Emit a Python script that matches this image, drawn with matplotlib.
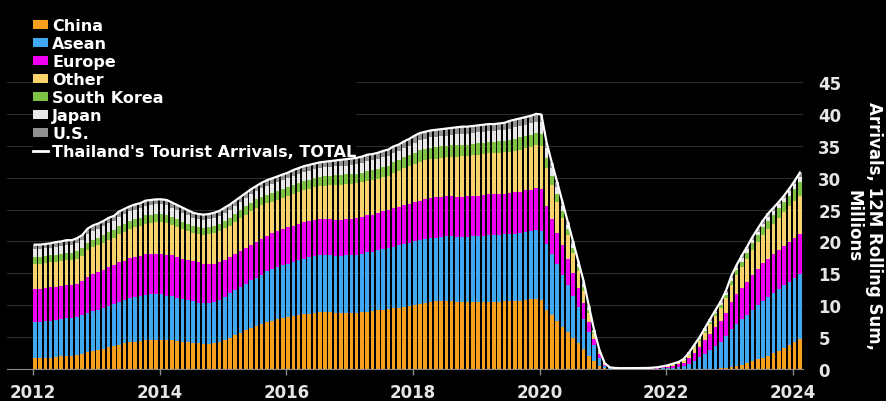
import numpy as np
import matplotlib
matplotlib.use("Agg")
import matplotlib.pyplot as plt
from matplotlib.patches import Patch
from matplotlib.lines import Line2D

# 12M rolling sums, millions, monthly Jan 2012 - Feb 2024
china = [
    1.7, 1.7, 1.8, 1.8, 1.9, 2.0, 2.1, 2.1, 2.2, 2.4, 2.6, 2.8,
    3.0, 3.2, 3.4, 3.6, 3.8, 4.0, 4.2, 4.3, 4.4, 4.5, 4.6, 4.6,
    4.6, 4.5, 4.5, 4.4, 4.3, 4.2, 4.1, 4.0, 3.9, 3.9, 4.0, 4.2,
    4.5, 4.9, 5.3, 5.7, 6.1, 6.5, 6.8, 7.1, 7.4, 7.6, 7.8, 8.0,
    8.1, 8.3, 8.5, 8.6, 8.7, 8.8, 8.9, 8.9, 8.9, 8.8, 8.8, 8.8,
    8.8, 8.8, 8.9, 9.0, 9.1, 9.2, 9.3, 9.4, 9.5, 9.6, 9.7, 9.8,
    10.0, 10.2, 10.4, 10.5, 10.6, 10.7, 10.7, 10.6, 10.5, 10.5, 10.5, 10.5,
    10.5, 10.5, 10.5, 10.5, 10.5, 10.6, 10.6, 10.6, 10.7, 10.8, 10.9, 11.0,
    10.8, 9.3, 8.4, 7.5, 6.6, 5.8, 4.9, 4.0, 3.1, 2.1, 1.2, 0.5,
    0.1, 0.03, 0.01, 0.01, 0.01, 0.01, 0.01, 0.01, 0.01, 0.01, 0.01, 0.01,
    0.01, 0.01, 0.01, 0.01, 0.01, 0.01, 0.01, 0.02, 0.03, 0.05, 0.1, 0.2,
    0.35, 0.5, 0.7, 0.9, 1.2, 1.5, 1.8, 2.1, 2.5, 2.9, 3.3, 3.7,
    4.2, 4.7]
asean = [
    5.7, 5.7, 5.7, 5.8, 5.8, 5.8, 5.9, 5.9, 5.9, 6.0, 6.2, 6.3,
    6.3, 6.4, 6.5, 6.6, 6.7, 6.8, 6.9, 7.0, 7.0, 7.1, 7.1, 7.1,
    7.1, 7.0, 6.9, 6.8, 6.7, 6.6, 6.5, 6.4, 6.4, 6.4, 6.5, 6.6,
    6.8, 7.0, 7.1, 7.2, 7.3, 7.4, 7.5, 7.7, 7.9, 8.1, 8.2, 8.3,
    8.4, 8.5, 8.6, 8.7, 8.8, 8.9, 8.9, 8.9, 8.9, 8.9, 8.9, 9.0,
    9.0, 9.1, 9.2, 9.3, 9.3, 9.4, 9.5, 9.6, 9.7, 9.8, 9.9, 10.0,
    10.0, 10.0, 10.0, 10.0, 10.0, 10.0, 10.1, 10.2, 10.2, 10.2, 10.2, 10.3,
    10.3, 10.4, 10.5, 10.5, 10.5, 10.5, 10.5, 10.6, 10.6, 10.7, 10.7, 10.8,
    10.9, 10.3, 9.6, 8.9, 8.2, 7.4, 6.6, 5.7, 4.8, 3.7, 2.5, 1.3,
    0.4, 0.1, 0.03, 0.03, 0.03, 0.03, 0.03, 0.03, 0.03, 0.04, 0.05, 0.08,
    0.12, 0.18, 0.25, 0.4, 0.75, 1.2, 1.8, 2.4, 3.0, 3.6, 4.2, 4.9,
    6.0, 6.6, 7.1, 7.6, 8.1, 8.5, 8.9, 9.2, 9.4, 9.6, 9.8, 9.9,
    10.0, 10.2]
europe = [
    5.2, 5.2, 5.2, 5.2, 5.2, 5.2, 5.2, 5.2, 5.3, 5.4, 5.7, 5.8,
    5.9, 6.0, 6.1, 6.1, 6.2, 6.2, 6.3, 6.3, 6.3, 6.4, 6.4, 6.4,
    6.4, 6.4, 6.4, 6.3, 6.3, 6.3, 6.3, 6.3, 6.2, 6.1, 6.0, 5.9,
    5.8, 5.7, 5.6, 5.6, 5.6, 5.6, 5.6, 5.6, 5.6, 5.6, 5.6, 5.6,
    5.7, 5.7, 5.7, 5.7, 5.7, 5.7, 5.7, 5.7, 5.7, 5.7, 5.7, 5.7,
    5.7, 5.7, 5.7, 5.8, 5.8, 5.8, 5.9, 5.9, 6.0, 6.0, 6.1, 6.1,
    6.2, 6.2, 6.3, 6.3, 6.3, 6.3, 6.3, 6.3, 6.3, 6.3, 6.4, 6.4,
    6.4, 6.4, 6.4, 6.4, 6.4, 6.4, 6.5, 6.5, 6.5, 6.5, 6.5, 6.6,
    6.5, 6.0, 5.5, 5.0, 4.6, 4.1, 3.6, 3.0, 2.4, 1.6, 1.0, 0.5,
    0.15, 0.04, 0.03, 0.02, 0.02, 0.02, 0.02, 0.03, 0.04, 0.06, 0.1, 0.17,
    0.25, 0.35, 0.45, 0.6, 0.9, 1.3, 1.7, 2.1, 2.5, 2.9, 3.3, 3.7,
    4.2, 4.6, 4.9, 5.2, 5.5, 5.7, 5.9, 6.0, 6.1, 6.2, 6.2, 6.3,
    6.3, 6.3]
other = [
    3.9, 3.9, 3.9, 3.9, 3.9, 3.9, 3.9, 3.9, 3.9, 3.9, 4.1, 4.2,
    4.2, 4.2, 4.3, 4.3, 4.4, 4.5, 4.5, 4.6, 4.7, 4.8, 4.8, 4.9,
    4.9, 5.0, 4.8, 4.8, 4.6, 4.5, 4.4, 4.4, 4.5, 4.7, 4.8, 4.9,
    5.0, 4.9, 5.1, 5.2, 5.2, 5.3, 5.4, 5.3, 5.1, 4.9, 4.9, 4.9,
    4.9, 5.0, 5.0, 5.1, 5.1, 5.1, 5.2, 5.2, 5.3, 5.5, 5.5, 5.5,
    5.5, 5.5, 5.5, 5.4, 5.4, 5.4, 5.4, 5.4, 5.5, 5.6, 5.8, 5.9,
    6.0, 6.1, 6.0, 6.1, 6.1, 6.1, 6.1, 6.2, 6.3, 6.4, 6.3, 6.3,
    6.4, 6.4, 6.4, 6.4, 6.5, 6.5, 6.5, 6.5, 6.6, 6.6, 6.7, 6.7,
    6.8, 5.9, 5.3, 4.8, 4.2, 3.7, 3.1, 2.6, 2.0, 1.4, 0.8, 0.4,
    0.15, 0.05, 0.04, 0.03, 0.03, 0.03, 0.03, 0.03, 0.03, 0.04, 0.05, 0.07,
    0.1, 0.14, 0.2, 0.35, 0.6, 0.8, 0.9, 1.2, 1.5, 1.8, 2.0, 2.3,
    2.6, 3.0, 3.3, 3.6, 3.9, 4.2, 4.4, 4.6, 4.8, 5.0, 5.3, 5.6,
    5.9, 6.0]
korea = [
    1.1, 1.1, 1.1, 1.1, 1.1, 1.1, 1.1, 1.1, 1.2, 1.2, 1.2, 1.2,
    1.2, 1.2, 1.2, 1.2, 1.3, 1.3, 1.3, 1.3, 1.3, 1.3, 1.3, 1.3,
    1.3, 1.3, 1.2, 1.2, 1.2, 1.1, 1.1, 1.1, 1.1, 1.1, 1.1, 1.1,
    1.1, 1.2, 1.2, 1.2, 1.3, 1.3, 1.3, 1.3, 1.3, 1.4, 1.4, 1.4,
    1.4, 1.4, 1.4, 1.4, 1.4, 1.4, 1.4, 1.5, 1.5, 1.5, 1.5, 1.5,
    1.5, 1.5, 1.5, 1.6, 1.6, 1.6, 1.6, 1.6, 1.7, 1.7, 1.7, 1.7,
    1.7, 1.8, 1.8, 1.8, 1.8, 1.8, 1.8, 1.8, 1.8, 1.8, 1.8, 1.8,
    1.8, 1.8, 1.8, 1.8, 1.8, 1.8, 1.8, 1.9, 1.9, 1.9, 1.9, 1.9,
    1.9, 1.6, 1.4, 1.3, 1.1, 0.9, 0.8, 0.7, 0.6, 0.4, 0.25, 0.12,
    0.04, 0.01, 0.01, 0.01, 0.01, 0.01, 0.01, 0.01, 0.01, 0.01, 0.01, 0.02,
    0.03, 0.05, 0.06, 0.08, 0.12, 0.17, 0.22, 0.3, 0.35, 0.4, 0.45, 0.55,
    0.65, 0.75, 0.85, 0.95, 1.05, 1.1, 1.2, 1.3, 1.4, 1.5, 1.6, 1.7,
    1.9, 2.1]
japan = [
    1.2, 1.2, 1.2, 1.2, 1.3, 1.3, 1.3, 1.3, 1.3, 1.3, 1.4, 1.4,
    1.4, 1.4, 1.4, 1.4, 1.5, 1.5, 1.5, 1.5, 1.5, 1.5, 1.5, 1.5,
    1.5, 1.5, 1.5, 1.4, 1.4, 1.4, 1.3, 1.3, 1.3, 1.3, 1.3, 1.3,
    1.3, 1.3, 1.3, 1.3, 1.3, 1.3, 1.3, 1.4, 1.4, 1.4, 1.4, 1.4,
    1.4, 1.4, 1.4, 1.4, 1.4, 1.4, 1.4, 1.4, 1.4, 1.4, 1.4, 1.4,
    1.5, 1.5, 1.5, 1.5, 1.5, 1.5, 1.5, 1.5, 1.5, 1.5, 1.5, 1.5,
    1.6, 1.6, 1.6, 1.6, 1.6, 1.6, 1.6, 1.6, 1.7, 1.7, 1.7, 1.7,
    1.7, 1.7, 1.7, 1.7, 1.7, 1.7, 1.8, 1.8, 1.8, 1.8, 1.8, 1.8,
    1.8, 1.5, 1.3, 1.1, 0.9, 0.7, 0.6, 0.5, 0.5, 0.4, 0.2, 0.1,
    0.03, 0.01, 0.02, 0.01, 0.01, 0.01, 0.02, 0.02, 0.02, 0.02, 0.02, 0.03,
    0.04, 0.05, 0.06, 0.08, 0.1, 0.15, 0.17, 0.2, 0.22, 0.25, 0.28, 0.3,
    0.4, 0.45, 0.5, 0.5, 0.5, 0.5, 0.55, 0.6, 0.6, 0.6, 0.6, 0.65,
    0.7, 0.8]
us = [
    0.7, 0.7, 0.7, 0.7, 0.7, 0.7, 0.7, 0.7, 0.7, 0.8, 0.8, 0.8,
    0.8, 0.8, 0.8, 0.8, 0.8, 0.8, 0.8, 0.8, 0.8, 0.8, 0.8, 0.8,
    0.8, 0.8, 0.8, 0.8, 0.8, 0.8, 0.8, 0.8, 0.8, 0.8, 0.8, 0.8,
    0.8, 0.8, 0.8, 0.8, 0.8, 0.8, 0.8, 0.8, 0.9, 0.9, 0.9, 0.9,
    0.9, 0.9, 0.9, 0.9, 0.9, 0.9, 0.9, 0.9, 0.9, 0.9, 1.0, 1.0,
    1.0, 1.0, 1.0, 1.0, 1.0, 1.0, 1.0, 1.0, 1.0, 1.0, 1.0, 1.1,
    1.1, 1.1, 1.1, 1.1, 1.1, 1.1, 1.1, 1.1, 1.1, 1.1, 1.1, 1.1,
    1.1, 1.1, 1.1, 1.1, 1.1, 1.1, 1.2, 1.2, 1.2, 1.2, 1.2, 1.2,
    1.2, 0.9, 0.8, 0.7, 0.6, 0.5, 0.4, 0.4, 0.4, 0.3, 0.15, 0.08,
    0.03, 0.01, 0.02, 0.02, 0.02, 0.02, 0.02, 0.02, 0.02, 0.02, 0.03, 0.04,
    0.05, 0.07, 0.07, 0.08, 0.12, 0.17, 0.2, 0.22, 0.25, 0.25, 0.27, 0.35,
    0.4, 0.4, 0.45, 0.45, 0.45, 0.5, 0.55, 0.6, 0.5, 0.4, 0.4, 0.45,
    0.5, 0.7]

labels = ["China", "Asean", "Europe", "Other", "South Korea", "Japan", "U.S."]
colors = ["#f7a020", "#40a8f0", "#f000f0", "#f8d26a", "#7dc242", "#e8e8e8", "#909090"]
series = [china, asean, europe, other, korea, japan, us]

n = len(china)
x = 2012 + np.arange(n) / 12.0
bw = 0.68 / 12

fig = plt.figure(figsize=(8.87, 4.02), dpi=100, facecolor="black")
ax = fig.add_axes([7/887, 1 - 370/402, 796/887, 287/402], facecolor="black")
ax.set_axisbelow(True)

bottom = np.zeros(n)
for vals, c in zip(series, colors):
    vals = np.array(vals)
    ax.bar(x, vals, width=bw, bottom=bottom, color=c, align="edge", linewidth=0, zorder=2)
    bottom = bottom + vals
total = bottom
ax.plot(x + bw / 2, total, color="white", lw=1.6, zorder=3)

ax.set_xlim(2011.59, 2024.16)
ax.set_ylim(0, 45)
ax.set_xticks(range(2012, 2025, 2))
ax.set_yticks(range(0, 46, 5))
ax.yaxis.tick_right()
ax.yaxis.set_label_position("right")
ax.grid(axis="y", color="#2b2b2b", lw=0.8)
for s in ["top", "left", "right"]:
    ax.spines[s].set_visible(False)
ax.spines["bottom"].set_color("#8a8a8a")
ax.tick_params(axis="x", colors="#8a8a8a", length=4, width=1, pad=6,
               labelcolor="#e6e6e6", labelsize=12)
ax.tick_params(axis="y", length=0, pad=11, labelcolor="#e6e6e6", labelsize=12)
for t in ax.get_xticklabels() + ax.get_yticklabels():
    t.set_fontweight("bold")
ax.set_ylabel("Arrivals, 12M Rolling Sum,\nMillions", rotation=270, color="white",
              fontsize=12, fontweight="bold", labelpad=30, multialignment="center")

handles = [Patch(facecolor=c, edgecolor="none") for c in colors]
handles.append(Line2D([0], [0], color="white", lw=2))
# legend sits behind the bars but above the grid
leg = ax.legend(handles, labels + ["Thailand's Tourist Arrivals, TOTAL"],
                loc="upper left", bbox_to_anchor=(33/887, 1 - 19/402),
                bbox_transform=fig.transFigure,
                frameon=True, facecolor="black", edgecolor="none", framealpha=1,
                borderpad=0, borderaxespad=0, handlelength=0.95, handleheight=0.5,
                handletextpad=0.25, labelspacing=0.19,
                prop={"weight": "bold", "size": 11.5})
leg.set_zorder(1)
for t in leg.get_texts():
    t.set_color("white")

plt.savefig("out.png", dpi=100, facecolor="black")
